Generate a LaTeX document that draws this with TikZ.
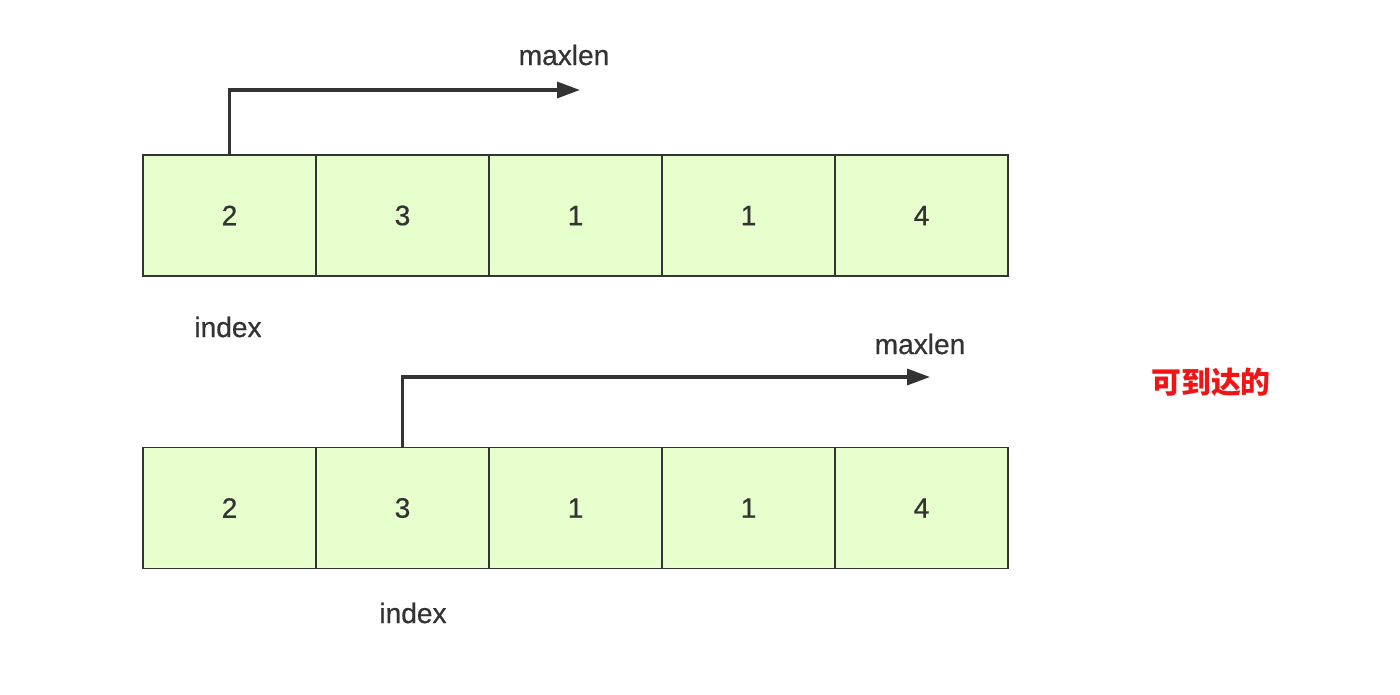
\documentclass[tikz,border=0pt]{standalone}
\usepackage{fontspec}
\setmainfont{Liberation Sans}[FakeBold=0.6]
\newfontfamily\cjk{Noto Sans CJK SC}
\definecolor{cellgreen}{RGB}{230,255,204}
\definecolor{inkgray}{RGB}{51,51,51}
\definecolor{notered}{RGB}{240,20,20}
\usetikzlibrary{arrows.meta,positioning}

\begin{document}
\begin{tikzpicture}[x=0.02cm,y=-0.02cm,
    cell/.style={draw=inkgray,fill=cellgreen,line width=0.8pt,
      minimum width=3.46cm,minimum height=2.42cm,inner sep=0pt,outer sep=0pt,
      text=inkgray,font=\fontsize{16}{18}\selectfont},
    lbl/.style={text=inkgray,font=\fontsize{16}{18}\selectfont},
    jump/.style={draw=inkgray,line width=2pt,-{Triangle[length=13pt,width=9pt]}}]
        \useasboundingbox (0,0) rectangle (1400,694);
        % first row: index at 2
        \foreach \v [count=\i] in {2,3,1,1,4}
          \node[cell] (a\i) at ({143+173*(\i-0.5)},215.5) {\v};
        \coordinate (reach1) at (580,90);
        \draw[jump] (a1.north) |- (reach1);
        \node[lbl] (max1) at (564,55) {maxlen};
        \node[lbl] (idx1) at (228,327) {index};
        % second row: index at 3
        \foreach \v [count=\i] in {2,3,1,1,4}
          \node[cell] (b\i) at ({143+173*(\i-0.5)},508) {\v};
        \coordinate (reach2) at (930,377);
        \draw[jump] (b2.north) |- (reach2);
        \node[lbl] (max2) at (920,344) {maxlen};
        \node[lbl] (idx2) at (413,613) {index};
        \node[text=notered,font=\cjk\bfseries\fontsize{17}{20}\selectfont] (note) at (1211,382) {可到达的};
      \end{tikzpicture}
\end{document}
